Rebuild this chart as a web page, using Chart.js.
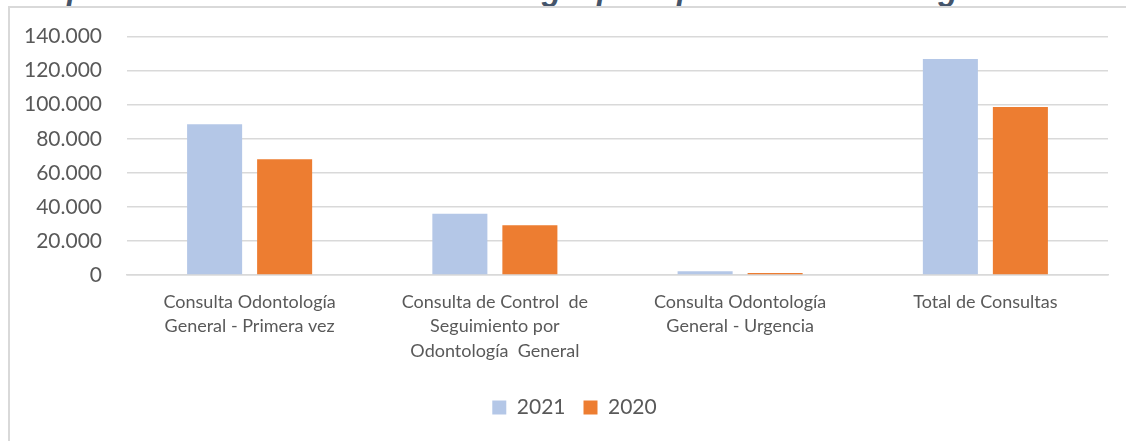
<!DOCTYPE html>
<html>
<head>
<meta charset="utf-8">
<script src="https://cdn.jsdelivr.net/npm/chart.js@4"></script>
<style>
  html, body { margin: 0; padding: 0; background: #fff; overflow: hidden; }
  body { width: 1126px; height: 441px; position: relative; }
  #titulo {
    position: absolute; left: -4px; top: -28.6px; white-space: nowrap;
    font: italic bold 32px "Liberation Sans", sans-serif; color: #44546A;
  }
  #marco {
    position: absolute; left: 8px; top: 6px; width: 1130px; height: 450px;
    border: 2px solid #d9d9d9; box-sizing: border-box;
  }
  #contenedor { position: absolute; left: 9px; top: -1px; width: 1117px; height: 442px; }
</style>
</head>
<body>
<div id="titulo">Comparativo consultas de odontología por tipo de consulta vigencias 2021 - 2020</div>
<div id="marco"></div>
<div id="contenedor"><canvas id="consultasChart"></canvas></div>
<script>
// datos
const categorias = [
    ['Consulta Odontología', 'General - Primera vez'],
    ['Consulta de Control  de', 'Seguimiento por', 'Odontología  General'],
    ['Consulta Odontología', 'General - Urgencia'],
    'Total de Consultas'
];
const anios = ['2021', '2020'];
const valores2021 = [88600, 36000, 2200, 126900];
const valores2020 = [68000, 29200, 1200, 98600];
const ticksY = [0, 20000, 40000, 60000, 80000, 100000, 120000, 140000];

const gris = '#595959';

// corre la leyenda un poco a la derecha, como en el original
const moverLeyenda = {
    id: 'moverLeyenda',
    afterLayout(chart) {
        chart.legend.left += 16;
        chart.legend.right += 16;
    }
};

document.addEventListener('DOMContentLoaded', () => {
    const ctx = document.getElementById('consultasChart').getContext('2d');

    const consultasChart = new Chart(ctx, {
        type: 'bar',
        data: {
            labels: categorias,
            datasets: [{
                label: anios[0],
                data: valores2021,
                backgroundColor: '#B4C7E7',
                categoryPercentage: 0.571,
                barPercentage: 0.786
            }, {
                label: anios[1],
                data: valores2020,
                backgroundColor: '#ED7D31',
                categoryPercentage: 0.571,
                barPercentage: 0.786
            }]
        },
        plugins: [moverLeyenda],
        options: {
            responsive: true,
            maintainAspectRatio: false,
            animation: false,
            layout: { padding: { top: 11, right: 18, bottom: 13, left: 0 } },
            plugins: {
                tooltip: { enabled: false },
                legend: {
                    position: 'bottom',
                    labels: {
                        boxWidth: 14,
                        boxHeight: 14,
                        padding: 18,
                        color: gris,
                        font: { family: 'Lato', size: 21 }
                    }
                }
            },
            scales: {
                y: {
                    min: ticksY[0],
                    max: ticksY[ticksY.length - 1],
                    afterFit: (scale) => { scale.width = 118; },
                    afterBuildTicks: (scale) => { scale.ticks = ticksY.map(v => ({ value: v })); },
                    border: { display: false },
                    grid: { color: '#d9d9d9', lineWidth: 1.5, drawTicks: false },
                    ticks: {
                        padding: 25,
                        color: gris,
                        font: { family: 'Lato', size: 21 },
                        callback: (v) => String(v).replace(/\B(?=(\d{3})+(?!\d))/g, '.')
                    }
                },
                x: {
                    afterFit: (scale) => { scale.height = 104; },
                    border: { color: '#d9d9d9', width: 1.5 },
                    grid: { display: false, drawTicks: false },
                    ticks: {
                        padding: 15,
                        maxRotation: 0,
                        autoSkip: false,
                        color: gris,
                        font: { family: 'Lato', size: 18, lineHeight: 1.35 }
                    }
                }
            }
        }
    });
});
</script>
</body>
</html>
